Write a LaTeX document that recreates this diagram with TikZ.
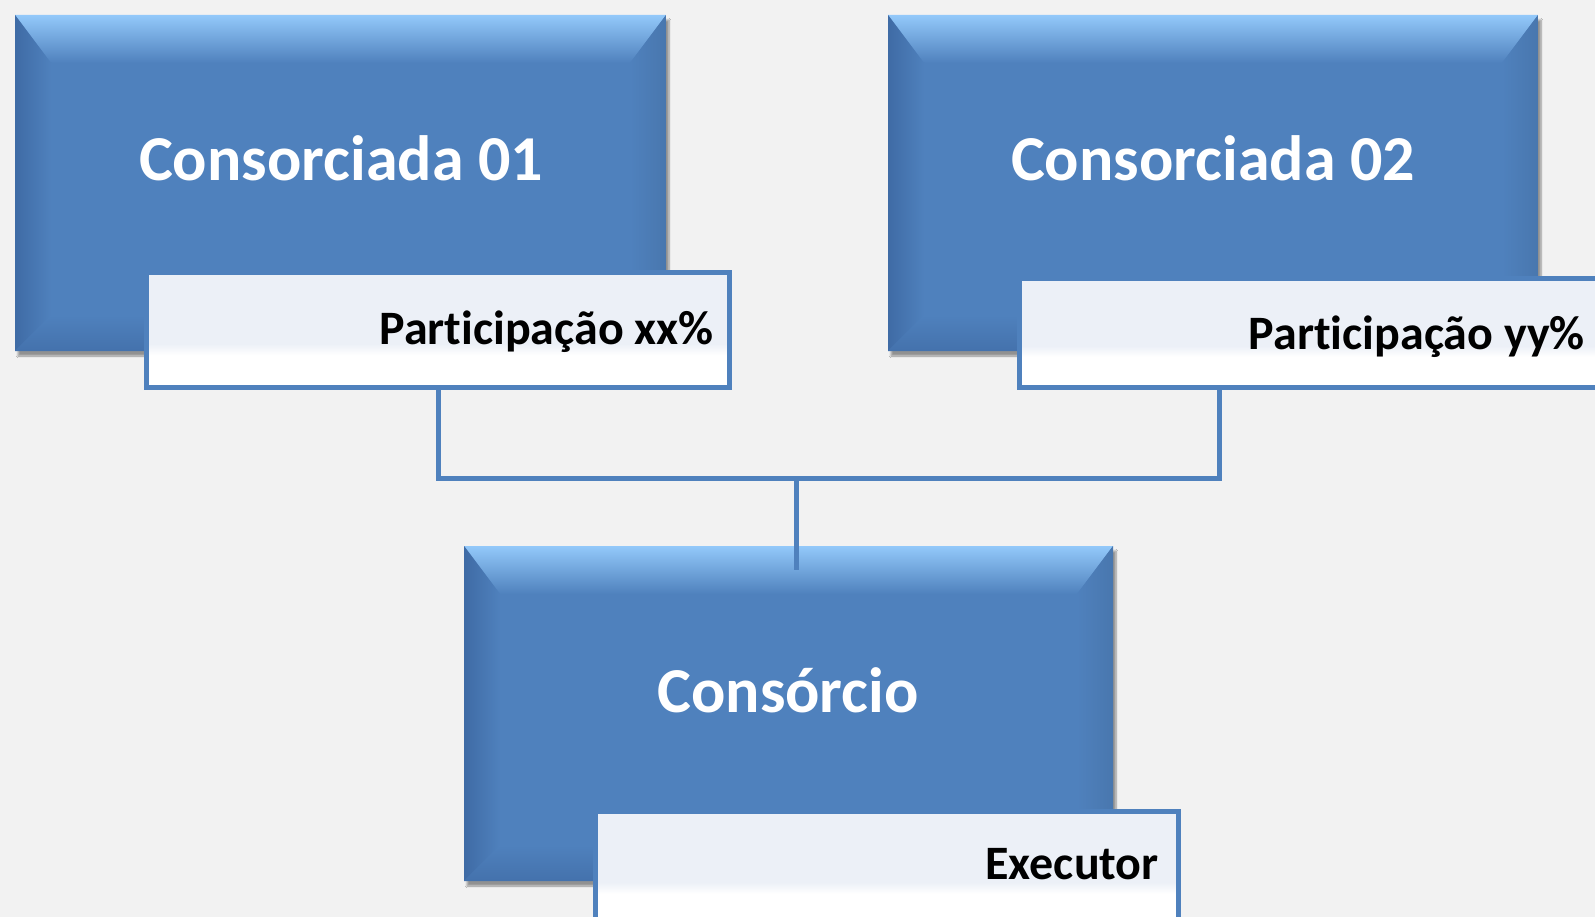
\documentclass[tikz,border=0pt]{standalone}
\usepackage{fontspec}
\setmainfont{Carlito}[Ligatures=CommonOff]
\usepackage{tikz}
\usetikzlibrary{calc}
\usetikzlibrary{shadows.blur}
\definecolor{boxblue}{HTML}{4F81BD}
\definecolor{bevellight}{HTML}{93C9FA}
\definecolor{beveldark}{HTML}{3F6BA5}
\definecolor{tagtint}{HTML}{ECF0F7}
\definecolor{paper}{HTML}{F2F2F2}
\pgfdeclareverticalshading{tagfade}{100bp}{color(0bp)=(white); color(39bp)=(white); color(44bp)=(tagtint); color(100bp)=(tagtint)}
\tikzset{
    block/.style={
        rectangle, fill=boxblue, inner sep=0pt,
        minimum width=650pt, minimum height=336pt,
        blur shadow={shadow xshift=3pt, shadow yshift=-5pt, shadow blur steps=6, shadow opacity=40},
        path picture={
            \coordinate (pp-nw) at (path picture bounding box.north west);
            \coordinate (pp-ne) at (path picture bounding box.north east);
            \coordinate (pp-sw) at (path picture bounding box.south west);
            \coordinate (pp-se) at (path picture bounding box.south east);
            % top bevel
            \shade[top color=bevellight, bottom color=boxblue] (pp-nw) -- (pp-ne) -- ($(pp-ne)+(-36pt,-48pt)$) -- ($(pp-nw)+(36pt,-48pt)$) -- cycle;
            % left bevel
            \shade[left color=beveldark, right color=boxblue] (pp-nw) -- ($(pp-nw)+(36pt,-48pt)$) -- ($(pp-sw)+(36pt,36pt)$) -- (pp-sw) -- cycle;
            % bottom bevel
            \shade[bottom color=beveldark!70!boxblue, top color=boxblue] (pp-sw) -- ($(pp-sw)+(36pt,36pt)$) -- ($(pp-se)+(-36pt,36pt)$) -- (pp-se) -- cycle;
            % right bevel
            \shade[right color=boxblue!92!black, left color=boxblue] (pp-ne) -- (pp-se) -- ($(pp-se)+(-36pt,36pt)$) -- ($(pp-ne)+(-36pt,-48pt)$) -- cycle;
        }
    },
    title/.style={text=white, font=\bfseries\fontsize{64}{72}\selectfont, anchor=base, inner sep=0pt},
    tag/.style={draw=boxblue, line width=5pt, shade, shading=tagfade, inner sep=0pt,
        minimum width=583pt, minimum height=115pt},
    tagtext/.style={font=\bfseries\fontsize{48}{54}\selectfont, anchor=base east, inner sep=0pt},
    link/.style={draw=boxblue, line width=5pt}
}

\begin{document}
\begin{tikzpicture}[x=1pt, y=-1pt]
		\useasboundingbox (0,0) rectangle (1595,917);
		\clip (0,0) rectangle (1595,917);
		\fill[paper] (0,0) rectangle (1595,917);

		% Consorciada 01
		\node[block, minimum width=651pt] (cons1) at (340.5,183) {};
		\node[title] (name1) at (341,181) {Consorciada 01};
		\node[tag] (tag1) at (438,330) {};
		\node[tagtext] (share1) at (714,344) {Participação xx\%};

		% Consorciada 02
		\node[block] (cons2) at (1213,183) {};
		\node[title] (name2) at (1213,181) {Consorciada 02};
		\node[tag, minimum height=108pt] (tag2) at (1311,333) {};
		\node[tagtext] (share2) at (1585,349) {Participação yy\%};

		% Consorcio
		\node[block, minimum width=649pt, minimum height=335pt] (cons) at (788.5,713.5) {};
		\node[title] (name3) at (788,712) {Consórcio};
		\node[tag] (tag3) at (887,868.5) {};
		\node[tagtext] (role) at (1159,879) {Executor};

		% links
		\coordinate (bus) at (796,478);
		\coordinate (drop2) at (1219,387);
		\draw[link] (tag1.south) |- (bus) -| (drop2);
		\draw[link] (bus) -- ([yshift=-24pt]bus |- cons.north);
\end{tikzpicture}
\end{document}
